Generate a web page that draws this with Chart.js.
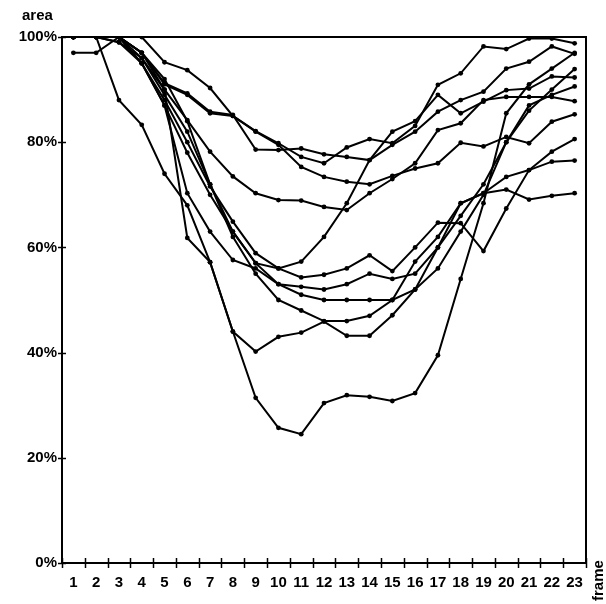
<!DOCTYPE html>
<html>
<head>
<meta charset="utf-8">
<script src="https://cdn.jsdelivr.net/npm/chart.js@4/dist/chart.umd.min.js"></script>
<style>
html,body{margin:0;padding:0;background:#fff;}
canvas{display:block;}
</style>
</head>
<body>
<canvas id="c" width="606" height="604"></canvas>
<script>
const frames = ['1','2','3','4','5','6','7','8','9','10','11','12','13','14','15','16','17','18','19','20','21','22','23'];
const yTicks = [0, 20, 40, 60, 80, 100];

const sA = [100,100,100,100,95.2,93.7,90.3,85,82.1,79.8,77.2,76,79,80.6,79.8,83.1,90.9,93.1,98.2,97.7,99.7,99.7,98.8];
const sB = [100,100,100,97,91.2,89.3,85.8,85.2,78.6,78.5,78.8,77.7,77.2,76.6,79.5,82,85.8,88,89.6,94,95.3,98.2,96.8];
const sC = [100,100,100,97,91,89,85.5,85,82,79.5,75.3,73.4,72.5,72,73.6,75,76,79.9,79.2,81,79.8,83.9,85.3];
const sD = [100,100,99,96,90,84.2,78.2,73.5,70.3,69,68.9,67.7,67.1,70.3,73,76,82.3,83.6,88,88.6,88.6,88.6,87.8];
const sR = [100,100,100,95,87,78,70,63,57,56,57.3,62,68.4,76.6,82,84,89,85.5,87.7,89.9,90.2,92.5,92.3];
const s1 = [97,97,100,97,90,61.8,57.2,44,31.4,25.7,24.5,30.4,31.9,31.6,30.8,32.3,39.5,54,68.4,85.5,91,94,97.0];
const sE = [100,100,88,83.3,74,68,57.2,44,40.2,43,43.8,45.9,43.2,43.2,47.1,52,60,66,72,80,86,90,93.9];
const sF = [100,100,100,96,89,82,72,63,57,53,51,50,50,50,50,52,56,63,70,80,87,89,90.6];
const sG = [100,100,99,95,88,80,71.6,64.9,58.9,56,54.3,54.8,56,58.5,55.5,60,64.7,64.6,59.3,67.4,74.7,78.2,80.6];
const sH = [100,100,100,95,87,70.3,63,57.6,56,53,52.5,52,53,55,54,55,60,68.4,70.3,73.4,74.7,76.3,76.5];
const sI = [100,100,100,97,92,84,72,62,55,50,48,46,46,47,50,57.3,62,68.4,70.3,71,69.1,69.8,70.3];

const allSeries = [sA, sB, sC, sD, sR, s1, sE, sF, sG, sH, sI];

const FONT = 'Liberation Sans, Arial, sans-serif';

const decor = {
  id: 'decor',
  afterDraw(chart) {
    const ctx = chart.ctx;
    const a = chart.chartArea;
    const ys = chart.scales.y;
    ctx.save();
    ctx.strokeStyle = '#000';
    ctx.lineWidth = 2;
    ctx.beginPath();
    ctx.moveTo(a.left, a.top); ctx.lineTo(a.right, a.top); ctx.lineTo(a.right, a.bottom);
    ctx.stroke();
    ctx.lineWidth = 1.5;
    const n = frames.length;
    const step = (a.right - a.left) / n;
    for (let i = 0; i <= n; i++) {
      const x = Math.round(a.left + i * step) + 0.5;
      ctx.beginPath(); ctx.moveTo(x, a.bottom - 5); ctx.lineTo(x, a.bottom + 5); ctx.stroke();
    }
    yTicks.forEach(v => {
      const y = Math.round(ys.getPixelForValue(v)) + 0.5;
      ctx.beginPath(); ctx.moveTo(a.left - 4, y); ctx.lineTo(a.left + 4, y); ctx.stroke();
    });
    ctx.fillStyle = '#000';
    ctx.font = 'bold 15px ' + FONT;
    ctx.textAlign = 'left'; ctx.textBaseline = 'alphabetic';
    ctx.fillText('area', 22, 20);
    ctx.save();
    ctx.translate(603, 601);
    ctx.rotate(-Math.PI / 2);
    ctx.fillText('frame', 0, 0);
    ctx.restore();
    ctx.restore();
  }
};

new Chart(document.getElementById('c'), {
  type: 'line',
  data: {
    labels: frames,
    datasets: allSeries.map(s => ({
      data: s,
      borderColor: '#000',
      backgroundColor: '#000',
      borderWidth: 2,
      pointRadius: 2.4,
      pointBorderWidth: 0,
      pointBackgroundColor: '#000',
      tension: 0,
      fill: false
    }))
  },
  options: {
    responsive: false,
    animation: false,
    devicePixelRatio: 1,
    layout: { padding: { left: 0, right: 20, top: 37, bottom: 0 } },
    plugins: { legend: { display: false }, tooltip: { enabled: false } },
    scales: {
      x: {
        offset: true,
        grid: { display: true, offset: true, drawOnChartArea: false, drawTicks: false },
        border: { display: true, color: '#000', width: 2 },
        ticks: { color: '#000', font: { family: FONT, size: 15, weight: 'bold' }, padding: 11, maxRotation: 0, autoSkip: false },
        afterFit(s) { s.height = 41; }
      },
      y: {
        min: 0, max: 100,
        grid: { display: true, drawOnChartArea: false, drawTicks: false },
        border: { display: true, color: '#000', width: 2 },
        ticks: { stepSize: 20, color: '#000', font: { family: FONT, size: 15, weight: 'bold' }, padding: 5, callback: v => v + '%' },
        afterFit(s) { s.width = 62; }
      }
    }
  },
  plugins: [decor]
});
</script>
</body>
</html>
